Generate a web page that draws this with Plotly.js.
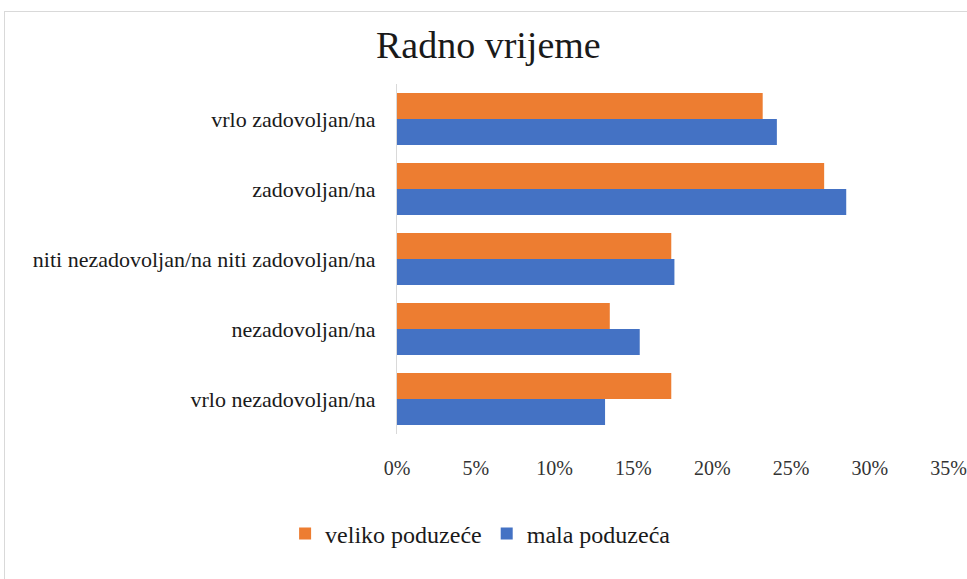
<!DOCTYPE html>
<html>
<head>
<meta charset="utf-8">
<script src="https://cdn.plot.ly/plotly-3.0.1.min.js"></script>
<style>
  html, body { margin: 0; padding: 0; background: #ffffff; }
  #chart { width: 967px; height: 579px; }
  #frame { position: absolute; left: 4px; top: 11px; width: 990px; height: 600px;
           border: 1px solid #d9d9d9; pointer-events: none; }
</style>
</head>
<body>
<div id="chart"></div>
<div id="frame"></div>
<script>
const categories = [
  "vrlo zadovoljan/na",
  "zadovoljan/na",
  "niti nezadovoljan/na niti zadovoljan/na",
  "nezadovoljan/na",
  "vrlo nezadovoljan/na"
];
const velikoValues = [0.232, 0.271, 0.174, 0.135, 0.174];
const malaValues   = [0.241, 0.285, 0.176, 0.154, 0.132];
const seriesNames = ["veliko poduzeće", "mala poduzeća"];
const tickVals = [0, 0.05, 0.10, 0.15, 0.20, 0.25, 0.30, 0.35];
const tickText = ["0%", "5%", "10%", "15%", "20%", "25%", "30%", "35%"];

const fontSerif = "Liberation Serif";

const data = [
  { type: "bar", orientation: "h", name: seriesNames[0], y: categories, x: velikoValues,
    marker: { color: "#ED7D31" }, hoverinfo: "skip" },
  { type: "bar", orientation: "h", name: seriesNames[1], y: categories, x: malaValues,
    marker: { color: "#4472C4" }, hoverinfo: "skip" }
];

const layout = {
  width: 967, height: 579,
  margin: { l: 397, r: 18, t: 84, b: 145 },
  paper_bgcolor: "#ffffff", plot_bgcolor: "#ffffff",
  barmode: "group", bargap: 0.26, bargroupgap: 0,
  title: { text: "Radno vrijeme", font: { family: fontSerif, size: 38, color: "#1a1a1a" },
           xref: "container", yref: "container", x: 0.505, y: 0.922,
           xanchor: "center", yanchor: "middle" },
  xaxis: { range: [0, 0.3502], tickvals: tickVals, ticktext: tickText,
           showgrid: false, zeroline: false, showline: false, ticks: "",
           ticklabelstandoff: 20, ticklabeloverflow: "allow",
           tickfont: { family: fontSerif, size: 20, color: "#333333" } },
  yaxis: { type: "category", autorange: "reversed", showgrid: false, zeroline: false,
           showline: true, linecolor: "#d9d9d9", linewidth: 1, ticks: "",
           ticklabelstandoff: 16,
           tickfont: { family: fontSerif, size: 22, color: "#1a1a1a" } },
  legend: { orientation: "h", xref: "container", yref: "container", x: 0.497, y: 0.078,
            xanchor: "center", yanchor: "middle",
            font: { family: fontSerif, size: 24, color: "#1a1a1a" },
            itemwidth: 30 },
  showlegend: true
};

Plotly.newPlot("chart", data, layout, { displayModeBar: false, staticPlot: true });
</script>
</body>
</html>
